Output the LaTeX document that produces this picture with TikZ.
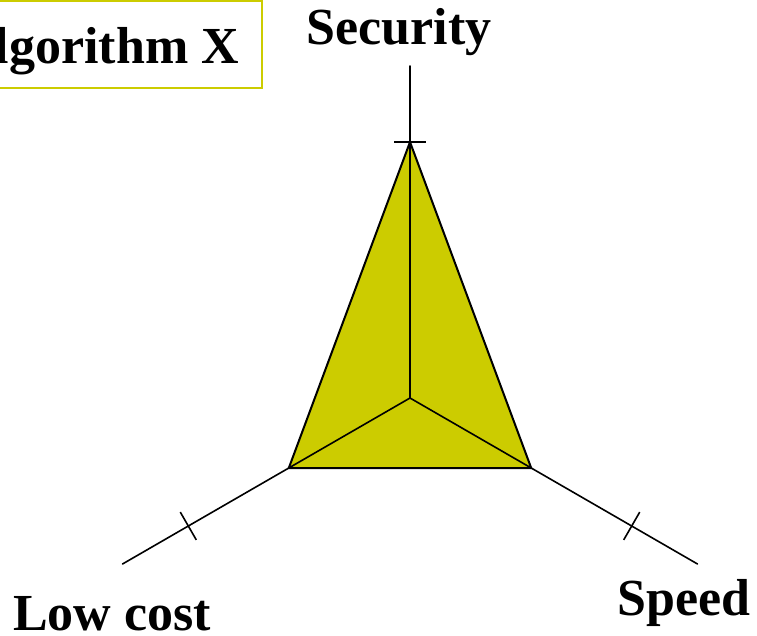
\documentclass[tikz,border=0pt]{standalone}
\usepackage{fontspec}
\setmainfont{Liberation Serif}
\definecolor{areafill}{HTML}{CCCC00}
\begin{document}
\begin{tikzpicture}[x=1pt,y=-1pt,
  axisline/.style={line width=1.6pt,line cap=round},
  tickline/.style={line width=1.6pt},
  areastyle/.style={fill=areafill,draw=black,line width=2pt,line join=miter},
  axislabel/.style={font=\fontsize{52}{62}\selectfont\bfseries,inner sep=0pt},
  titlebox/.style={draw=areafill,line width=2pt,fill=white,
    font=\fontsize{52}{62}\selectfont\bfseries,inner xsep=23pt,inner ysep=0pt,
    text height=62pt,text depth=25pt}]
\useasboundingbox (0,0) rectangle (757,635);

% centre, axis ends and value points
\coordinate (O) at (410,398);
\coordinate (secEnd) at (410,66);
\coordinate (costEnd) at (122.5,564);
\coordinate (speedEnd) at (697.5,564);
\coordinate (secVal) at (410,142);
\coordinate (costVal) at (288.8,468);
\coordinate (speedVal) at (531.2,468);

% filled value triangle
\fill[areastyle,draw=none] (secVal) -- (costVal) -- (speedVal) -- cycle;

% axes
\draw[axisline] (O) -- (secEnd);
\draw[axisline] (O) -- (costEnd);
\draw[axisline] (O) -- (speedEnd);

% outline of the triangle
\draw[areastyle,fill=none] (secVal) -- (costVal) -- (speedVal) -- cycle;

% ticks on the axes
\coordinate (t1a) at (394,142);  \coordinate (t1b) at (426,142);
\coordinate (t2a) at (180.3,512.1); \coordinate (t2b) at (196.3,539.9);
\coordinate (t3a) at (639.7,512.1); \coordinate (t3b) at (623.7,539.9);
\draw[tickline] (t1a) -- (t1b);
\draw[tickline] (t2a) -- (t2b);
\draw[tickline] (t3a) -- (t3b);

% axis labels
\node[axislabel,anchor=base] (secLabel) at (399,44) {Security};
\node[axislabel,anchor=base west] (costLabel) at (13,630) {Low cost};
\node[axislabel,anchor=base west] (speedLabel) at (617,615) {Speed};

% title box
\node[titlebox,anchor=base east] (title) at (263,63) {Algorithm X};
\end{tikzpicture}
\end{document}
